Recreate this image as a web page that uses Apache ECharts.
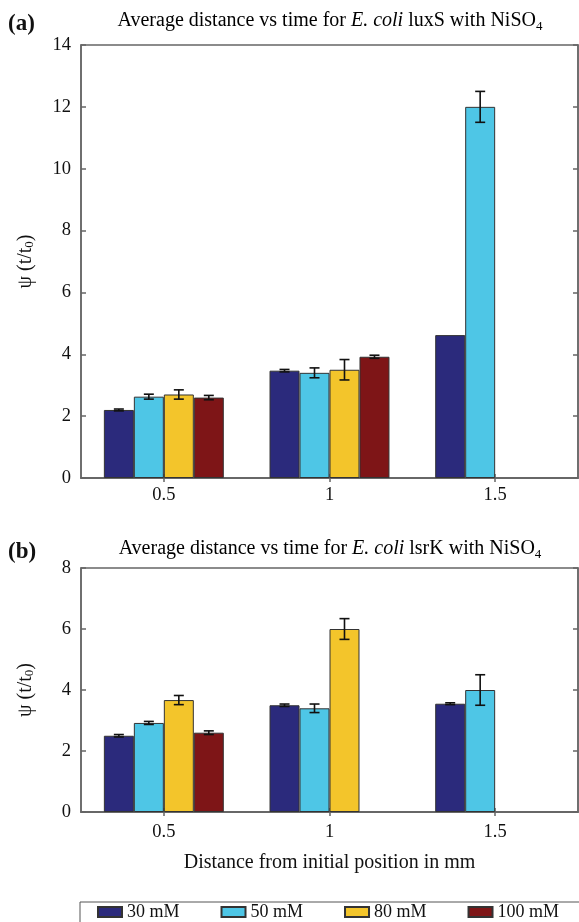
<!DOCTYPE html>
<html>
<head>
<meta charset="utf-8">
<script src="https://cdn.jsdelivr.net/npm/echarts@6/dist/echarts.min.js"></script>
<style>
  html, body { margin: 0; padding: 0; background: #fff; }
  #chart { width: 579px; height: 922px; }
</style>
</head>
<body>
<div id="chart"></div>
<script>
// Distance categories (mm) and NiSO4 concentrations
const categories = ['0.5', '1', '1.5'];
const concentrations = ['30 mM', '50 mM', '80 mM', '100 mM'];
const colors = ['#2b2a7c', '#4ec6e6', '#f3c52b', '#7e1517'];

// Panel (a): E. coli luxS, mean psi(t/t0) and error half-widths
const luxS30 = [2.2, 3.47, 4.62];
const luxS50 = [2.63, 3.4, 12.0];
const luxS80 = [2.7, 3.5, null];
const luxS100 = [2.6, 3.92, null];
const luxS30Err = [0.03, 0.04, 0];
const luxS50Err = [0.08, 0.16, 0.5];
const luxS80Err = [0.15, 0.33, null];
const luxS100Err = [0.07, 0.05, null];

// Panel (b): E. coli lsrK
const lsrK30 = [2.5, 3.5, 3.55];
const lsrK50 = [2.92, 3.4, 4.0];
const lsrK80 = [3.67, 6.0, null];
const lsrK100 = [2.6, null, null];
const lsrK30Err = [0.04, 0.04, 0.03];
const lsrK50Err = [0.05, 0.14, 0.5];
const lsrK80Err = [0.15, 0.34, null];
const lsrK100Err = [0.06, null, null];

// Y axis tick setup
const yMaxA = 14, yMaxB = 8, yStep = 2;

const FONT = 'Liberation Serif';
const GAP = 0.276;            // barCategoryGap as a fraction
const AXIS_COLOR = '#666';

const panelA = { values: [luxS30, luxS50, luxS80, luxS100], errs: [luxS30Err, luxS50Err, luxS80Err, luxS100Err] };
const panelB = { values: [lsrK30, lsrK50, lsrK80, lsrK100], errs: [lsrK30Err, lsrK50Err, lsrK80Err, lsrK100Err] };

function errorData(panel) {
  const out = [];
  panel.values.forEach((vals, k) => {
    vals.forEach((v, c) => {
      const e = panel.errs[k][c];
      if (v != null && e) out.push([c, v - e, v + e, k]);
    });
  });
  return out;
}

function renderError(params, api) {
  const c = api.value(0), lo = api.value(1), hi = api.value(2), k = api.value(3);
  const band = api.size([1, 0])[0];
  const barW = band * (1 - GAP) / 4;
  const x = api.coord([c, 0])[0] + (k - 1.5) * barW;
  const yLo = api.coord([c, lo])[1];
  const yHi = api.coord([c, hi])[1];
  const cap = 5;
  const st = { stroke: '#111', lineWidth: 1.6 };
  return {
    type: 'group',
    children: [
      { type: 'line', shape: { x1: x, y1: yLo, x2: x, y2: yHi }, style: st },
      { type: 'line', shape: { x1: x - cap, y1: yLo, x2: x + cap, y2: yLo }, style: st },
      { type: 'line', shape: { x1: x - cap, y1: yHi, x2: x + cap, y2: yHi }, style: st }
    ]
  };
}

const subRich = {
  s: { fontFamily: FONT, fontSize: 13, lineHeight: 12, verticalAlign: 'bottom', color: '#111' }
};

function xAxes(gridIndex, withName) {
  const base = {
    type: 'category', data: categories, gridIndex: gridIndex,
    axisLine: { show: true, lineStyle: { color: AXIS_COLOR, width: 1.5 } },
    axisTick: { show: true, inside: true, alignWithLabel: true, length: 4, lineStyle: { color: AXIS_COLOR, width: 1.5 } },
    splitLine: { show: false }
  };
  const bottom = Object.assign({}, base, {
    position: 'bottom',
    axisLabel: { color: '#111', fontFamily: FONT, fontSize: 18.5, margin: gridIndex === 0 ? 8 : 11 }
  });
  if (withName) {
    Object.assign(bottom, {
      name: 'Distance from initial position in mm',
      nameLocation: 'middle', nameGap: 41,
      nameTextStyle: { color: '#111', fontFamily: FONT, fontSize: 20 }
    });
  }
  const top = Object.assign({}, base, { position: 'top', axisLabel: { show: false } });
  return [bottom, top];
}

function yAxes(gridIndex, max) {
  const base = {
    type: 'value', gridIndex: gridIndex, min: 0, max: max, interval: yStep,
    axisLine: { show: true, lineStyle: { color: AXIS_COLOR, width: 1.5 } },
    axisTick: { show: true, inside: true, length: 5, lineStyle: { color: AXIS_COLOR, width: 1.5 } },
    splitLine: { show: false }
  };
  const left = Object.assign({}, base, {
    position: 'left',
    axisLabel: { color: '#111', fontFamily: FONT, fontSize: 18.5, margin: 10 },
    name: 'ψ (t/t{s|0})', nameLocation: 'middle', nameRotate: 90, nameGap: 45,
    nameTextStyle: { color: '#111', fontFamily: FONT, fontSize: 20, rich: subRich }
  });
  const right = Object.assign({}, base, { position: 'right', axisLabel: { show: false } });
  return [left, right];
}

function barSeries(panel, axisIdx) {
  return panel.values.map((vals, k) => ({
    type: 'bar', name: concentrations[k], data: vals,
    xAxisIndex: axisIdx, yAxisIndex: axisIdx,
    barGap: '0%', barCategoryGap: (GAP * 100) + '%',
    itemStyle: { color: colors[k], borderColor: '#333', borderWidth: 1 },
    emphasis: { disabled: true }
  }));
}

function errSeries(panel, axisIdx) {
  return {
    type: 'custom', xAxisIndex: axisIdx, yAxisIndex: axisIdx,
    data: errorData(panel), renderItem: renderError, z: 5, silent: true
  };
}

function titleText(strain) {
  return '{t|Average distance vs time for }{i|E. coli}{t| ' + strain + ' with NiSO}{s|4}';
}
const titleRich = {
  t: { fontFamily: FONT, fontSize: 20, lineHeight: 24, color: '#111' },
  i: { fontFamily: FONT, fontSize: 20, lineHeight: 24, fontStyle: 'italic', color: '#111' },
  s: { fontFamily: FONT, fontSize: 13, lineHeight: 12, verticalAlign: 'bottom', color: '#111' }
};

const chart = echarts.init(document.getElementById('chart'), null, { renderer: 'canvas' });
chart.setOption({
  animation: false,
  backgroundColor: '#fff',
  grid: [
    { left: 81, right: 1, top: 45, height: 433, show: true, borderColor: AXIS_COLOR, borderWidth: 1.5 },
    { left: 81, right: 1, top: 568, height: 244, show: true, borderColor: AXIS_COLOR, borderWidth: 1.5 }
  ],
  xAxis: xAxes(0, false).concat(xAxes(1, true)),
  yAxis: yAxes(0, yMaxA).concat(yAxes(1, yMaxB)),
  legend: {
    data: concentrations, left: 97, top: 903, padding: 0, itemGap: 41,
    itemWidth: 24, itemHeight: 10, icon: 'rect',
    textStyle: { color: '#111', fontFamily: FONT, fontSize: 18 },
    selectedMode: false
  },
  graphic: [
    { type: 'rect', shape: { x: 80, y: 902, width: 530, height: 40 }, style: { fill: 'none', stroke: '#555', lineWidth: 1 }, silent: true },
    { type: 'text', x: 8, y: 24, style: { text: '(a)', font: 'bold 23px "Liberation Serif"', fill: '#111', verticalAlign: 'middle' } },
    { type: 'text', x: 8, y: 552, style: { text: '(b)', font: 'bold 23px "Liberation Serif"', fill: '#111', verticalAlign: 'middle' } },
    { type: 'text', x: 330, y: 21, style: { text: titleText('luxS'), rich: titleRich, align: 'center', verticalAlign: 'middle' } },
    { type: 'text', x: 330, y: 549, style: { text: titleText('lsrK'), rich: titleRich, align: 'center', verticalAlign: 'middle' } }
  ],
  series: barSeries(panelA, 0)
    .concat([errSeries(panelA, 0)])
    .concat(barSeries(panelB, 2))
    .concat([errSeries(panelB, 2)])
});
</script>
</body>
</html>
